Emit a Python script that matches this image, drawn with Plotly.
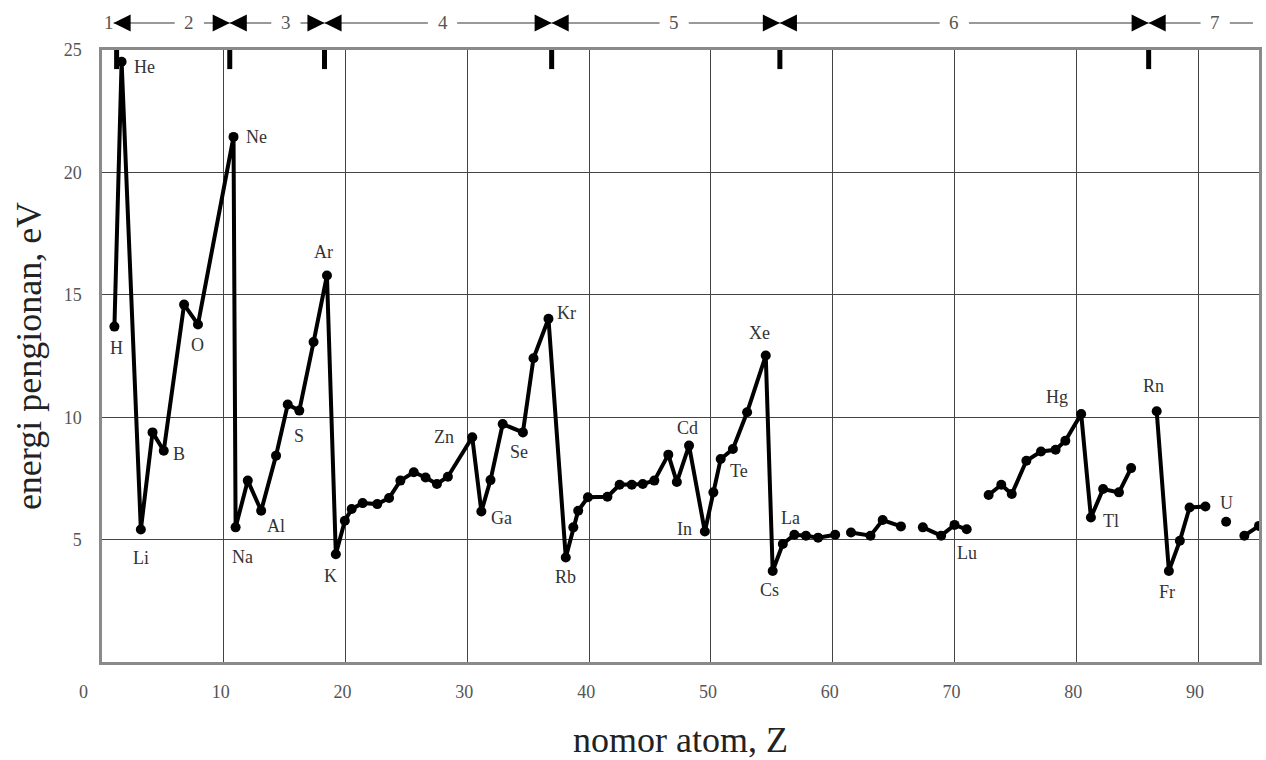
import plotly.graph_objects as go

# ---------------- data ----------------
# atomic-number position as drawn, and first ionisation energy (eV); None = gap in the curve
Z = [1.02, 1.61, 3.19, 4.15, 5.07, 6.74, 7.88, 10.8,
     10.97, 11.97, 13.07, 14.29, 15.25, 16.2, 17.37, 18.47,
     19.2, 19.94, 20.5, 21.4, 22.6, 23.57, 24.5, 25.6, 26.57, 27.5, 28.4, 30.4,
     31.15, 31.9, 32.9, 34.56, 35.43, 36.66,
     38.08, 38.7, 39.1, 39.9, 41.5, 42.5, 43.5, 44.4, 45.35, 46.5, 47.2, 48.2,
     49.5, 50.2, 50.8, 51.8, 52.97, 54.5,
     55.07, 55.9, 56.85, 57.8, 58.8, 60.2, None,
     61.5, 63.1, 64.1, 65.6, None,
     67.4, 68.9, 70.0, 71.0, None,
     72.8, 73.84, 74.7, 75.9, 77.1, 78.3, 79.1, 80.4,
     81.2, 82.2, 83.5, 84.5, None,
     86.6, 87.6, 88.5, 89.3, 90.6, None,
     92.3, None,
     93.8, 95.0]
IE = [13.7, 24.52, 5.41, 9.38, 8.63, 14.6, 13.79, 21.45,
      5.5, 7.41, 6.18, 8.43, 10.52, 10.27, 13.07, 15.79,
      4.4, 5.77, 6.25, 6.49, 6.45, 6.7, 7.41, 7.75, 7.54, 7.27, 7.57, 9.18,
      6.15, 7.43, 9.72, 9.38, 12.41, 14.02,
      4.27, 5.5, 6.18, 6.73, 6.75, 7.24, 7.24, 7.27, 7.41, 8.47, 7.35, 8.84,
      5.33, 6.93, 8.29, 8.7, 10.2, 12.52,
      3.72, 4.82, 5.2, 5.16, 5.08, 5.2, None,
      5.29, 5.16, 5.8, 5.54, None,
      5.5, 5.16, 5.6, 5.42, None,
      6.82, 7.24, 6.86, 8.22, 8.6, 8.67, 9.04, 10.13,
      5.9, 7.07, 6.93, 7.92, None,
      10.24, 3.72, 4.95, 6.31, 6.35, None,
      5.73, None,
      5.16, 5.56]
symbols = ["H", "He", "Li", "Be", "B", "N", "O", "Ne",
           "Na", "Mg", "Al", "Si", "P", "S", "Cl", "Ar",
           "K", "Ca", "Sc", "Ti", "V", "Cr", "Mn", "Fe", "Co", "Ni", "Cu", "Zn",
           "Ga", "Ge", "As", "Se", "Br", "Kr",
           "Rb", "Sr", "Y", "Zr", "Nb", "Mo", "Tc", "Ru", "Rh", "Pd", "Ag", "Cd",
           "In", "Sn", "Sb", "Te", "I", "Xe",
           "Cs", "Ba", "La", "Ce", "Pr", "Nd", None,
           "Sm", "Eu", "Gd", "Tb", None,
           "Ho", "Er", "Yb", "Lu", None,
           "Hf", "Ta", "W", "Re", "Os", "Ir", "Pt", "Hg",
           "Tl", "Pb", "Bi", "Po", None,
           "Rn", "Fr", "Ra", "Ac", "Th", None,
           "U", None,
           "Pu", "Am"]
labelled = ["H", "He", "Li", "B", "O", "Ne", "Na", "Al", "S", "Ar", "K", "Zn",
            "Ga", "Se", "Kr", "Rb", "Cd", "In", "Te", "Xe", "La", "Cs", "Lu",
            "Hg", "Tl", "Rn", "Fr", "U"]

period_names = ["1", "2", "3", "4", "5", "6", "7"]
period_label_z = [0.55, 7.17, 15.1, 27.96, 46.98, 69.98, 91.4]
period_bounds = [0.95, 10.49, 18.27, 36.92, 55.66, 85.94, 94.5]
period_ticks = [1.2, 10.49, 18.27, 36.92, 55.66, 85.94]

x_ticks = [10, 20, 30, 40, 50, 60, 70, 80, 90]
y_ticks = [5, 10, 15, 20, 25]
corner_tick = "0"

# ---------------- style ----------------
SERIF = "Liberation Serif, Times New Roman, serif"
# pixel offsets of the element labels relative to their point (right, down)
label_offset = {
    "H": (2, 21), "He": (23, 5), "Li": (0, 28), "B": (15, 3), "O": (0, 21),
    "Ne": (23, 0), "Na": (7, 30), "Al": (15, 15), "S": (0, 25), "Ar": (-3, -23),
    "K": (-5, 22), "Zn": (-28, 0), "Ga": (20, 7), "Se": (-4, 20), "Kr": (18, -6),
    "Rb": (0, 20), "Cd": (-2, -18), "In": (-20, -3), "Te": (6, 22), "Xe": (-6, -23),
    "La": (-4, -17), "Cs": (-3, 19), "Lu": (0, 24), "Hg": (-24, -17), "Tl": (20, 3),
    "Rn": (-3, -25), "Fr": (-2, 21), "U": (0, -19),
}

W, H = 1266, 760
M = dict(l=102, r=4, t=50, b=98)
plot_w = W - M["l"] - M["r"]
plot_h = H - M["t"] - M["b"]
XR = [0, 95]
YR = [0, 25]
px_per_x = plot_w / (XR[1] - XR[0])
row_paper = 1 + (M["t"] - 23) / plot_h     # paper y of the period arrow row

fig = go.Figure()

# main curve
fig.add_trace(go.Scatter(
    x=Z, y=IE, mode="lines+markers", connectgaps=False,
    line=dict(color="black", width=4),
    marker=dict(color="black", size=10),
    hoverinfo="skip", showlegend=False))

# short thick period ticks at the top of the frame
tx, ty = [], []
for b in period_ticks:
    tx += [b, b, None]
    ty += [YR[1], YR[1] - 0.78, None]
fig.add_trace(go.Scatter(x=tx, y=ty, mode="lines",
                         line=dict(color="black", width=5),
                         hoverinfo="skip", showlegend=False))

annotations = []
shapes = []

# element labels
for s in labelled:
    i = symbols.index(s)
    dx, dy = label_offset[s]
    annotations.append(dict(x=Z[i], y=IE[i], xref="x", yref="y", text=s,
                            showarrow=False, xshift=dx, yshift=-dy,
                            font=dict(family=SERIF, size=18, color="#333")))

# period arrow row
gap = 1.2
head = 16 / px_per_x
for k, name in enumerate(period_names):
    c = period_label_z[k]
    annotations.append(dict(x=c, y=row_paper, xref="x", yref="paper", text=name,
                            showarrow=False, yanchor="middle",
                            font=dict(family=SERIF, size=19, color="#555")))
    if k == 0:
        continue
    L = period_bounds[k - 1]
    R = period_bounds[k]
    for a, b in [(L, c - gap), (c + gap, R)]:
        shapes.append(dict(type="line", xref="x", yref="paper",
                           x0=a, x1=b, y0=row_paper, y1=row_paper,
                           line=dict(color="#999", width=2)))
    heads = [(L, L + head)]
    if k < len(period_names) - 1:
        heads.append((R, R - head))
    for tip, tail in heads:
        annotations.append(dict(x=tip, y=row_paper, xref="x", yref="paper",
                                ax=tail, ay=0, axref="x", ayref="pixel",
                                text="", showarrow=True, arrowhead=2,
                                arrowsize=1.55, arrowwidth=2.2, arrowcolor="black",
                                standoff=0, startstandoff=0))

# shared corner "0" label (below-left of the frame corner)
annotations.append(dict(x=(83 - M["l"]) / plot_w, y=-(692 - (H - M["b"])) / plot_h,
                        xref="paper", yref="paper", text=corner_tick,
                        xanchor="center", yanchor="middle", showarrow=False,
                        font=dict(family=SERIF, size=18, color="#555")))

axis_common = dict(showgrid=True, gridcolor="#444", gridwidth=1.2,
                   zeroline=False, showline=True, mirror=True,
                   linecolor="#8a8a8a", linewidth=2.5, ticks="",
                   tickfont=dict(family=SERIF, size=18, color="#555"))

fig.update_layout(
    width=W, height=H, margin=M,
    paper_bgcolor="white", plot_bgcolor="white",
    xaxis=dict(range=XR, tickvals=x_ticks, ticktext=[str(v) for v in x_ticks],
               ticklabelstandoff=12, ticklabelshift=-3,
               title=dict(text="nomor atom, Z", standoff=27,
                          font=dict(family=SERIF, size=36, color="#222")),
               **axis_common),
    yaxis=dict(range=YR, tickvals=y_ticks, ticktext=[str(v) for v in y_ticks],
               ticklabelstandoff=14,
               title=dict(text="energi pengionan, eV", standoff=12,
                          font=dict(family=SERIF, size=36, color="#222")),
               **axis_common),
    annotations=annotations, shapes=shapes,
)

fig.write_html("out.html", config={"displayModeBar": False},
               post_script="document.body.style.margin='0';document.body.style.overflow='hidden';")
